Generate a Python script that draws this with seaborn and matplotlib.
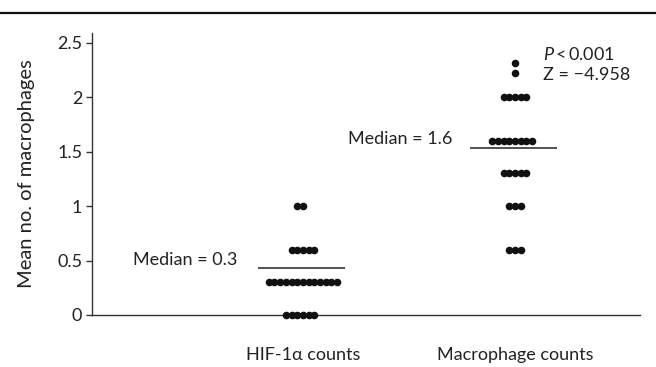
import matplotlib
matplotlib.use("Agg")
import matplotlib.pyplot as plt
import seaborn as sns
import pandas as pd
from matplotlib.lines import Line2D

# ---- data ----
categories = ["HIF-1\u03b1 counts", "Macrophage counts"]
hif_levels = [0.0, 0.3, 0.6, 1.0]
hif_counts = [6, 13, 5, 2]
mac_levels = [0.6, 1.0, 1.3, 1.6, 2.0, 2.22, 2.31]
mac_counts = [3, 3, 5, 8, 5, 1, 1]
median_lines = [0.43, 1.53]
median_labels = ["Median = 0.3", "Median = 1.6"]
yticks = [0, 0.5, 1, 1.5, 2, 2.5]
ytick_labels = ["0", "0.5", "1", "1.5", "2", "2.5"]
stats_text = ["$P$\u2009<\u20090.001", "Z = \u22124.958"]

rows = []
for lv, n in zip(hif_levels, hif_counts):
    rows += [(categories[0], lv)] * n
for lv, n in zip(mac_levels, mac_counts):
    rows += [(categories[1], lv)] * n
df = pd.DataFrame(rows, columns=["group", "value"])

sns.set_style("white")
plt.rcParams["font.family"] = ["Lato", "DejaVu Sans"]
plt.rcParams["mathtext.fontset"] = "custom"
plt.rcParams["mathtext.it"] = "Lato:italic"
plt.rcParams["mathtext.rm"] = "Lato"

FS = 13
TXT = "#222222"

fig = plt.figure(figsize=(6.56, 3.67), dpi=100)
ax = fig.add_axes([0.1402, 0.1417, 0.8354, 0.7684])

sns.swarmplot(data=df, x="group", y="value", order=categories, ax=ax,
              color="#111111", size=3.9, linewidth=0, legend=False)

ax.set_xlim(-0.995, 1.59)
ax.set_ylim(0, 2.59)
fig.canvas.draw()
# freeze swarm positions, then enlarge markers so neighbours merge like the original
for c in ax.collections:
    if "draw" in c.__dict__:
        del c.__dict__["draw"]
    c.set_sizes([30])
    c.set_clip_on(False)
    c.set_zorder(5)

# median lines
for i, m in enumerate(median_lines):
    ax.plot([i - 0.21, i + 0.2], [m, m], color="#333333", lw=1.2, solid_capstyle="butt")

ax.text(-0.311, 0.505, median_labels[0], ha="right", va="center", fontsize=FS, color=TXT)
ax.text(0.703, 1.615, median_labels[1], ha="right", va="center", fontsize=FS, color=TXT)
ax.text(1.132, 2.39, stats_text[0], ha="left", va="center", fontsize=FS, color=TXT)
ax.text(1.132, 2.20, stats_text[1], ha="left", va="center", fontsize=FS, color=TXT)

ax.set_yticks(yticks)
ax.set_yticklabels(ytick_labels, fontsize=FS, color=TXT)
ax.set_xticks([0, 1])
ax.set_xticklabels(categories, fontsize=FS, color=TXT)
ax.tick_params(axis="x", length=0, pad=23)
ax.tick_params(axis="y", length=4, width=1, color="#333333", pad=3, left=True)
ax.set_xlabel("")
ax.set_ylabel("Mean no. of macrophages", fontsize=14.5, color=TXT, labelpad=16)

for s in ["top", "right"]:
    ax.spines[s].set_visible(False)
for s in ["left", "bottom"]:
    ax.spines[s].set_color("#333333")
    ax.spines[s].set_linewidth(1.0)

fig.add_artist(Line2D([0, 1], [0.965, 0.965], transform=fig.transFigure,
                      color="#111111", lw=1.6))

fig.savefig("out.png", dpi=100)
